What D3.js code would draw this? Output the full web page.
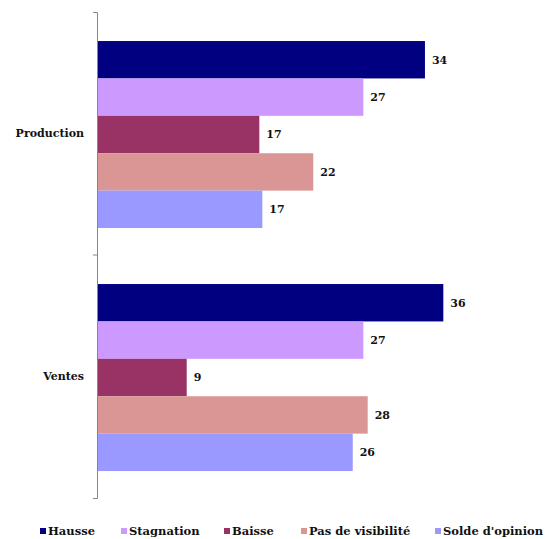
<!DOCTYPE html>
<html><head><meta charset="utf-8">
<script src="https://cdn.jsdelivr.net/npm/d3@7"></script>
<style>body{margin:0;background:#fff}svg{display:block}</style>
</head><body>
<svg id="c" width="551" height="539" font-family="'DejaVu Serif', serif"></svg>
<script>
const categories = ["Production", "Ventes"];
const series = ["Hausse", "Stagnation", "Baisse", "Pas de visibilité", "Solde d'opinion"];
const colors = ["#000080", "#CC99FF", "#993366", "#D99694", "#9999FF"];
const production = [33.74, 27.4, 16.7, 22.25, 17.01];
const ventes = [35.63, 27.4, 9.23, 27.85, 26.31];
const values = [production, ventes];

const svg = d3.select("#c");
const x = d3.scaleLinear().domain([0, 40]).range([97, 485.8]);
const y = d3.scaleBand().domain(categories).range([12, 498]);
const bw = y.bandwidth();
const ys = d3.scaleBand().domain(series).range([bw * 0.1195, bw * 0.889]);

categories.forEach((cat, ci) => {
  const g = svg.append("g").attr("transform", `translate(0,${y(cat)})`);
  g.selectAll("rect").data(values[ci]).join("rect")
    .attr("x", x(0)).attr("y", (d, i) => ys(series[i]))
    .attr("width", d => x(d) - x(0)).attr("height", ys.bandwidth())
    .attr("fill", (d, i) => colors[i]);
  g.selectAll("text.v").data(values[ci]).join("text").attr("class", "v")
    .attr("x", d => x(d) + 7).attr("y", (d, i) => ys(series[i]) + ys.bandwidth() / 2)
    .attr("dy", "0.35em").attr("font-size", 11).attr("font-weight", "bold")
    .attr("fill", "#111")
    .text(d => Math.round(d));
});

// axis
const ax = svg.append("g").attr("transform", `translate(${x(0)},0)`)
  .call(d3.axisLeft(y).tickValues([]).tickSizeOuter(4));
ax.select(".domain").attr("stroke", "#868686");
ax.selectAll(".tick").remove();
svg.append("line").attr("x1", x(0) - 4).attr("x2", x(0))
  .attr("y1", y("Ventes")).attr("y2", y("Ventes")).attr("stroke", "#868686");
svg.selectAll("text.cat").data(categories).join("text").attr("class", "cat")
  .attr("x", 84).attr("y", d => y(d) + bw / 2).attr("dy", "0.35em")
  .attr("text-anchor", "end").attr("font-size", 11).attr("font-weight", "bold")
  .attr("fill", "#111")
  .text(d => d);

// legend
const legX = [40, 121, 224, 301, 435];
const lg = svg.selectAll("g.leg").data(series).join("g").attr("class", "leg")
  .attr("transform", (d, i) => `translate(${legX[i]},531)`);
lg.append("rect").attr("x", 0).attr("y", -3).attr("width", 6).attr("height", 6)
  .attr("fill", (d, i) => colors[i]);
lg.append("text").attr("x", 8).attr("y", 0).attr("dy", "0.33em")
  .attr("font-size", 11.5).attr("font-weight", "bold").attr("fill", "#111").text(d => d);
</script>
</body></html>
